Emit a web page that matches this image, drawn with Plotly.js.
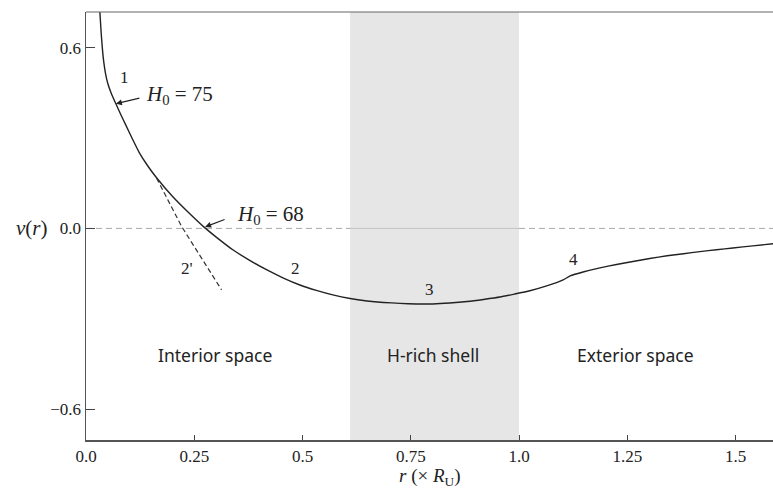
<!DOCTYPE html>
<html>
<head>
<meta charset="utf-8">
<script src="https://cdn.plot.ly/plotly-3.0.1.min.js"></script>
<style>html,body{margin:0;padding:0;background:#fff;}#chart{width:773px;height:488px;}</style>
</head>
<body>
<div id="chart"></div>
<script>
// Main curve nu(r)
const curveR  = [0.032, 0.035, 0.038, 0.041, 0.045, 0.050, 0.058, 0.069, 0.080, 0.092, 0.107, 0.123, 0.142, 0.162, 0.200, 0.238, 0.272, 0.300, 0.339, 0.378, 0.418, 0.456, 0.494, 0.532, 0.570, 0.610, 0.649, 0.687, 0.725, 0.763, 0.801, 0.840, 0.880, 0.918, 0.956, 0.990, 1.025, 1.064, 1.102, 1.118, 1.150, 1.187, 1.225, 1.263, 1.302, 1.342, 1.380, 1.418, 1.456, 1.494, 1.540, 1.587];
const curveNu = [0.720, 0.650, 0.595, 0.553, 0.515, 0.483, 0.450, 0.414, 0.379, 0.343, 0.298, 0.252, 0.209, 0.170, 0.106, 0.051, 0.005, -0.028, -0.071, -0.106, -0.138, -0.165, -0.188, -0.206, -0.221, -0.233, -0.241, -0.246, -0.249, -0.251, -0.251, -0.248, -0.243, -0.236, -0.228, -0.218, -0.207, -0.191, -0.171, -0.158, -0.144, -0.131, -0.120, -0.110, -0.100, -0.091, -0.084, -0.077, -0.071, -0.065, -0.058, -0.051];
// Tangent branch 2'
const tangentR  = [0.163, 0.221, 0.313];
const tangentNu = [0.167, 0.006, -0.204];
// H-rich shell bounds
const shellBounds = [0.61, 1.0];
// Ticks
const xTickVals = [0, 0.25, 0.5, 0.75, 1.0, 1.25, 1.5];
const xTickText = ['0.0', '0.25', '0.5', '0.75', '1.0', '1.25', '1.5'];
const yTickVals = [-0.6, 0, 0.6];
const yTickText = ['\u22120.6', '0.0', '0.6'];
// Labels
const pointLabels = ['1', '2\'', '2', '3', '4'];
const pointLabelR = [0.088, 0.2325, 0.483, 0.794, 1.127];
const pointLabelNu = [0.503, -0.132, -0.132, -0.204, -0.102];
const regionLabels = ['Interior space', 'H-rich shell', 'Exterior space'];
const regionLabelR = [0.298, 0.801, 1.268];
const regionLabelNu = [-0.422, -0.422, -0.422];

const serif = "'Liberation Serif', 'DejaVu Serif', serif";
const traces = [
  {x: curveR, y: curveNu, mode: 'lines', line: {color: '#222', width: 1.4, shape: 'spline', smoothing: 0.5}, hoverinfo: 'skip', showlegend: false},
  {x: tangentR, y: tangentNu, mode: 'lines', line: {color: '#333', width: 1.2, dash: '5px,3px'}, hoverinfo: 'skip', showlegend: false}
];

const annotations = [];
pointLabels.forEach((t, i) => annotations.push({x: pointLabelR[i], y: pointLabelNu[i], text: t, showarrow: false, font: {family: serif, size: 17, color: '#222'}}));
regionLabels.forEach((t, i) => annotations.push({x: regionLabelR[i], y: regionLabelNu[i], text: t, showarrow: false, font: {family: "'Noto Sans', sans-serif", size: 17.5, color: '#222'}}));
// H0 labels with arrows
annotations.push({x: 0.069, y: 0.414, text: '', showarrow: true, ax: 25, ay: -6, arrowhead: 2, arrowsize: 1, arrowwidth: 1.2, arrowcolor: '#222', standoff: 0});
annotations.push({x: 0.217, y: 0.443, text: '<i>H</i><sub>0</sub> = 75', showarrow: false, font: {family: serif, size: 21, color: '#222'}});
annotations.push({x: 0.275, y: 0.005, text: '', showarrow: true, ax: 21, ay: -8, arrowhead: 2, arrowsize: 1, arrowwidth: 1.2, arrowcolor: '#222', standoff: 0});
annotations.push({x: 0.427, y: 0.045, text: '<i>H</i><sub>0</sub> = 68', showarrow: false, font: {family: serif, size: 21, color: '#222'}});
// Axis titles
annotations.push({xref: 'paper', yref: 'paper', x: -0.0786, y: 0.495, xanchor: 'center', yanchor: 'middle', text: '<i>\u03bd</i>(<i>r</i>)', showarrow: false, font: {family: serif, size: 21, color: '#222'}});
annotations.push({xref: 'paper', yref: 'paper', x: 0.5007, y: -0.0864, xanchor: 'center', yanchor: 'middle', text: '<i>r</i> (\u00d7 <i>R</i><sub>U</sub>)', showarrow: false, font: {family: serif, size: 19, color: '#222'}});

const shapes = [
  {type: 'rect', xref: 'x', yref: 'paper', x0: shellBounds[0], x1: shellBounds[1], y0: 0, y1: 1, fillcolor: '#e6e6e6', line: {width: 0}, layer: 'below'},
  {type: 'line', xref: 'x', yref: 'y', x0: 0, x1: shellBounds[0], y0: 0, y1: 0, line: {color: '#aaa', width: 1, dash: '6px,4px'}, layer: 'below'},
  {type: 'line', xref: 'x', yref: 'y', x0: shellBounds[0], x1: shellBounds[1], y0: 0, y1: 0, line: {color: '#c4c4c4', width: 1}, layer: 'below'},
  {type: 'line', xref: 'x', yref: 'y', x0: shellBounds[1], x1: 1.6, y0: 0, y1: 0, line: {color: '#aaa', width: 1, dash: '6px,4px'}, layer: 'below'},
  {type: 'line', xref: 'paper', yref: 'paper', x0: 0, x1: 1, y0: 1, y1: 1, line: {color: '#666', width: 1.2}}
];

const layout = {
  width: 773, height: 488,
  margin: {l: 86, r: 0, t: 12, b: 48, pad: 0},
  paper_bgcolor: '#fff', plot_bgcolor: 'rgba(0,0,0,0)',
  showlegend: false,
  xaxis: {range: [0, 1.5866], tickvals: xTickVals, ticktext: xTickText, ticks: 'inside', ticklen: 5, tickwidth: 1, tickcolor: '#444', showgrid: false, zeroline: false, showline: true, linecolor: '#555', linewidth: 1.5, tickfont: {family: serif, size: 17, color: '#222'}},
  yaxis: {range: [-0.703, 0.719], tickvals: yTickVals, ticktext: yTickText, ticks: 'inside', ticklen: 9, tickwidth: 1, tickcolor: '#444', showgrid: false, zeroline: false, showline: true, linecolor: '#555', linewidth: 1.5, tickfont: {family: serif, size: 17, color: '#222'}},
  annotations: annotations,
  shapes: shapes
};

Plotly.newPlot('chart', traces, layout, {displayModeBar: false, staticPlot: true});
</script>
</body>
</html>
